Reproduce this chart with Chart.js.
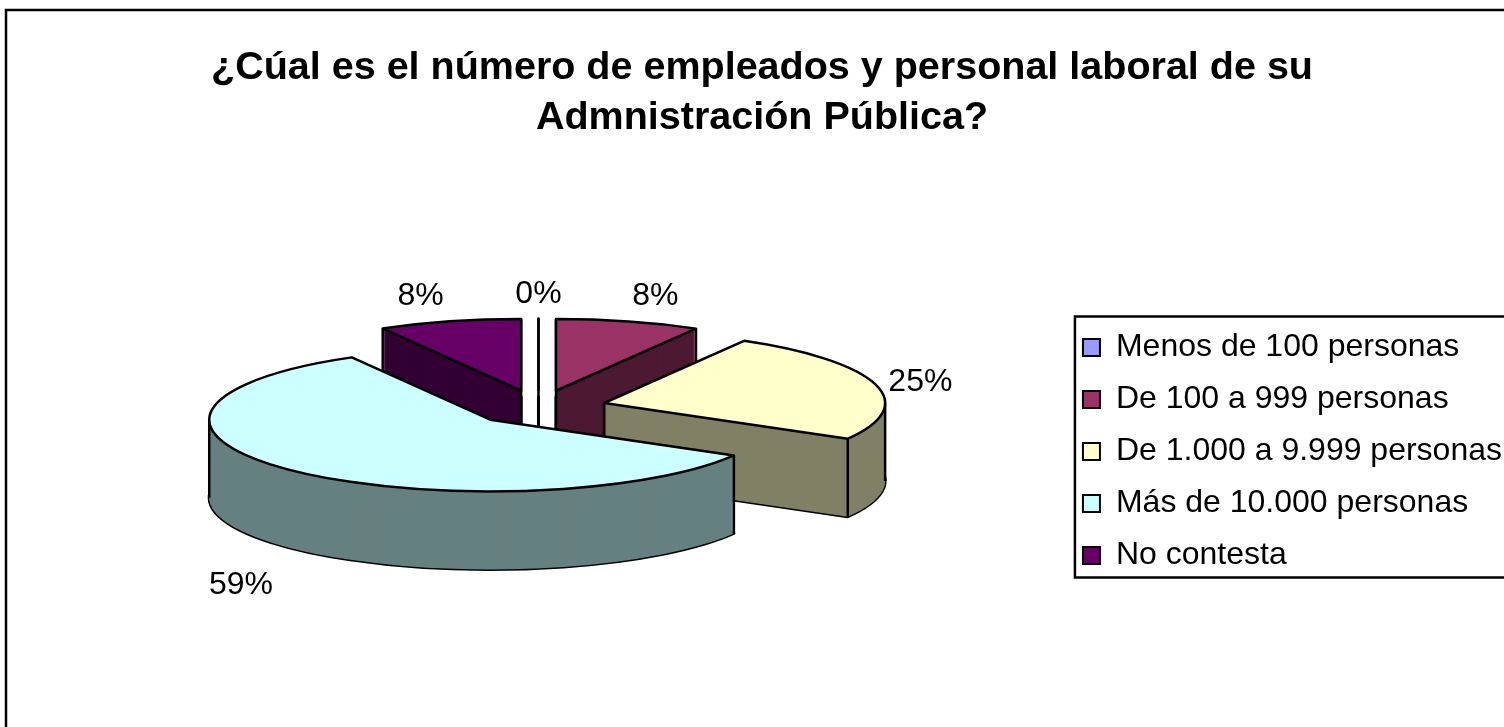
<!DOCTYPE html>
<html>
<head>
<meta charset="utf-8">
<title>Empleados</title>
<script src="https://cdn.jsdelivr.net/npm/chart.js@4/dist/chart.umd.js"></script>
<style>
    html, body { margin: 0; padding: 0; background: #fff; overflow: hidden; }
    canvas { display: block; }
</style>
</head>
<body>
<canvas id="chart" width="1524" height="727"></canvas>
<script>
const titleLines = ['¿Cúal es el número de empleados y personal laboral de su', 'Admnistración Pública?'];
const categories = ['Menos de 100 personas', 'De 100 a 999 personas', 'De 1.000 a 9.999 personas', 'Más de 10.000 personas', 'No contesta'];
const percents = [0, 8.3, 25, 58.5, 8.2];
const topColors = ['#9999FF', '#993366', '#FFFFCC', '#CCFFFF', '#660066'];
const sideColors = ['#4D4D80', '#4D1933', '#808066', '#668080', '#330033'];

// Look of the fake 3D pie
const squash = 0.255;
const explode = 68;
const depth = 78;
const shiftX = 1;
const lift = -44;
const labelShift = [[0, -24], [27, -25], [45, -2], [-50, 37], [-29, -25]];

Chart.defaults.font.family = '"Liberation Sans", Arial, sans-serif';
Chart.defaults.color = '#000';

// Trace one slice as the flattened ellipse wedge, in page pixels
function tracePath(ctx, arc, x, y) {
    const p = arc.getProps(['startAngle', 'endAngle', 'outerRadius']);
    ctx.beginPath();
    ctx.moveTo(x, y);
    ctx.ellipse(x, y, p.outerRadius, p.outerRadius * squash, 0, p.startAngle, p.endAngle);
    ctx.closePath();
}

// Where the exploded slice has its apex on the page
function sliceApex(arc) {
    const p = arc.getProps(['x', 'y', 'startAngle', 'endAngle']);
    const mid = (p.startAngle + p.endAngle) / 2;
    return {
        x: p.x + shiftX + Math.cos(mid) * explode,
        y: p.y + lift + Math.sin(mid) * explode * squash,
        mid: mid
    };
}

function inWedge(a, p) {
    return [a - Math.PI * 2, a, a + Math.PI * 2].some(function(v) {
        return v > p.startAngle && v < p.endAngle;
    });
}

function drawSlice(ctx, arc) {
    const p = arc.getProps(['x', 'y', 'startAngle', 'endAngle', 'outerRadius']);
    const apex = sliceApex(arc);
    const index = arc.$index;
    const flat = Object.assign({}, arc.options, { borderWidth: 0 });
    const saved = arc.options;

    // lower outline first, the side layers then cover its inner half
    tracePath(ctx, arc, apex.x, apex.y + depth);
    ctx.lineWidth = 3;
    ctx.strokeStyle = '#000';
    ctx.lineJoin = 'round';
    ctx.stroke();

    // flatten the library's own arc about its centre and stack it
    const stamp = function(offsetY, color) {
        ctx.save();
        ctx.translate(apex.x, apex.y + offsetY);
        ctx.scale(1, squash);
        ctx.translate(-p.x, -p.y);
        arc.options = Object.assign({}, flat, { backgroundColor: color });
        arc.draw(ctx);
        ctx.restore();
    };
    for (let d = depth; d > 0; d--) {
        stamp(d, sideColors[index]);
    }

    // vertical edges: apex, both cut corners and the ellipse extremes in range
    const angles = [p.startAngle, p.endAngle];
    [0, Math.PI].forEach(function(a) {
        if (inWedge(a, p)) {
            angles.push(a);
        }
    });
    ctx.lineWidth = 2.5;
    ctx.beginPath();
    if (!inWedge(Math.PI / 2, p)) {
        ctx.moveTo(apex.x, apex.y);
        ctx.lineTo(apex.x, apex.y + depth);
    }
    angles.forEach(function(a) {
        const ex = apex.x + Math.cos(a) * p.outerRadius;
        const ey = apex.y + Math.sin(a) * p.outerRadius * squash;
        ctx.moveTo(ex, ey);
        ctx.lineTo(ex, ey + depth);
    });
    ctx.stroke();

    stamp(0, topColors[index]);
    arc.options = saved;

    tracePath(ctx, arc, apex.x, apex.y);
    ctx.stroke();
}

const pie3d = {
    id: 'pie3d',
    beforeDraw(chart) {
        // outer frame, the right and bottom sides fall outside the page
        const ctx = chart.ctx;
        ctx.save();
        ctx.fillStyle = '#fff';
        ctx.fillRect(0, 0, chart.width, chart.height);
        ctx.strokeStyle = '#000';
        ctx.lineWidth = 2.5;
        ctx.strokeRect(6, 10, chart.width, chart.height);
        ctx.restore();
    },
    beforeDatasetDraw(chart, args) {
        const ctx = chart.ctx;
        const arcs = args.meta.data.map(function(arc, i) {
            arc.$index = i;
            return arc;
        });
        // back slices first so the front ones cover them
        const order = arcs.slice().sort(function(a, b) {
            return sliceApex(a).y - sliceApex(b).y;
        });
        ctx.save();
        order.forEach(function(arc) {
            drawSlice(ctx, arc);
        });
        ctx.restore();

        // percent labels
        ctx.save();
        ctx.font = '32px "Liberation Sans", Arial, sans-serif';
        ctx.fillStyle = '#000';
        ctx.textAlign = 'center';
        ctx.textBaseline = 'middle';
        arcs.forEach(function(arc, i) {
            const apex = sliceApex(arc);
            const r = arc.getProps(['outerRadius']).outerRadius;
            const front = Math.sin(apex.mid) > 0.3 ? depth : 0;
            const x = apex.x + Math.cos(apex.mid) * r + labelShift[i][0];
            const y = apex.y + Math.sin(apex.mid) * r * squash + front + labelShift[i][1];
            ctx.fillText(Math.round(percents[i]) + '%', x, y);
        });
        ctx.restore();
        return false;
    },
    afterDraw(chart) {
        // frame round the legend
        const legend = chart.legend;
        const boxes = legend.legendHitBoxes;
        const last = boxes[boxes.length - 1];
        const top = boxes[0].top - 15;
        const bottom = last.top + last.height + 6;
        const left = boxes[0].left - 8;
        const ctx = chart.ctx;
        ctx.save();
        ctx.strokeStyle = '#000';
        ctx.lineWidth = 2.5;
        ctx.strokeRect(left, top, chart.width, bottom - top);
        ctx.restore();
    }
};

new Chart(document.getElementById('chart').getContext('2d'), {
    type: 'pie',
    data: {
        labels: categories,
        datasets: [{
            data: percents,
            backgroundColor: topColors,
            borderColor: '#000',
            borderWidth: 2,
            radius: 281
        }]
    },
    options: {
        responsive: false,
        animation: false,
        events: [],
        layout: { padding: { left: 12, right: 12 } },
        plugins: {
            title: {
                display: true,
                text: titleLines,
                color: '#000',
                font: { size: 39.5, weight: 'bold', lineHeight: 1.266 },
                padding: { top: 43, bottom: 33 }
            },
            legend: {
                position: 'right',
                fullSize: false,
                labels: {
                    color: '#000',
                    font: { size: 32 },
                    boxWidth: 17,
                    boxHeight: 17,
                    padding: 20
                }
            },
            tooltip: { enabled: false }
        }
    },
    plugins: [pie3d]
});
</script>
</body>
</html>
